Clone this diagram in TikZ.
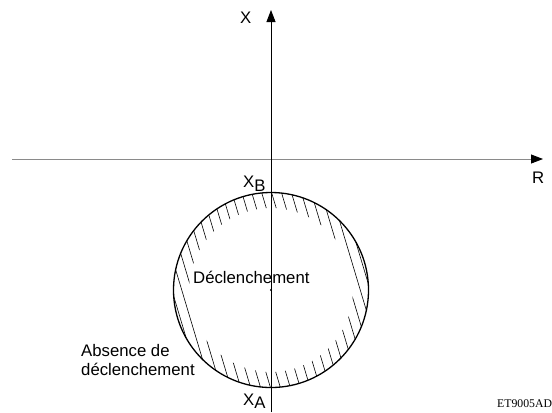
\documentclass[tikz,border=0pt]{standalone}
\usepackage{fontspec}
\setmainfont{Liberation Sans}
\newfontfamily\refserif{Liberation Serif}
\usetikzlibrary{arrows.meta,calc}
\definecolor{axisGray}{HTML}{8A8A8A}

\begin{document}
\begin{tikzpicture}[
  x=1bp, y=-1bp,
  font=\fontsize{16.8}{19}\selectfont,
  axis/.style={line width=0.9bp,-{Triangle[length=12bp,width=9bp,color=black]}},
  hatch/.style={line width=0.6bp},
  lbl/.style={inner sep=0pt,anchor=base west}
]
  \useasboundingbox (0,0) rectangle (552,412);

  % axes
  \coordinate (C) at (271,290);
  \coordinate (xtop) at (271,10);
  \coordinate (xbot) at (271,412);
  \coordinate (rleft) at (12,159);
  \coordinate (rright) at (543,159);
  \draw[axis,draw=axisGray] (rleft) -- (rright);
  \draw[axis] (xbot) -- (xtop);

  % hatched ring
  \begin{scope}[even odd rule]
    \clip (C) circle[radius=97.5bp] (C) circle[radius=82bp];
    \foreach \i in {-12,...,12}
      \draw[hatch] ($(C)+(\i*9.5*0.958,-\i*9.5*0.287)+(-0.287*110,-0.958*110)$) -- +(0.287*220,0.958*220);
  \end{scope}
  \draw[line width=1.3bp] (C) circle[radius=97.5bp];
  \fill (C) circle[radius=1.1bp];

  % labels
  \node[lbl] (lblX) at (240,23) {X};
  \node[lbl] (lblR) at (532,183) {R};
  \node[lbl] (lblXB) at (243,187) {X\raisebox{-0.25em}{B}};
  \node[lbl] (lblXA) at (243,405) {X\raisebox{-0.22em}{A}};
  \node[lbl] (lblIn) at (193,283) {Déclenchement};
  \node[lbl,align=left] (lblOut) at (81,375) {Absence de\\déclenchement};
  \node[lbl,font=\refserif\fontsize{11.8}{13}\selectfont] (lblRef) at (497,407) {ET9005AD};
\end{tikzpicture}
\end{document}
